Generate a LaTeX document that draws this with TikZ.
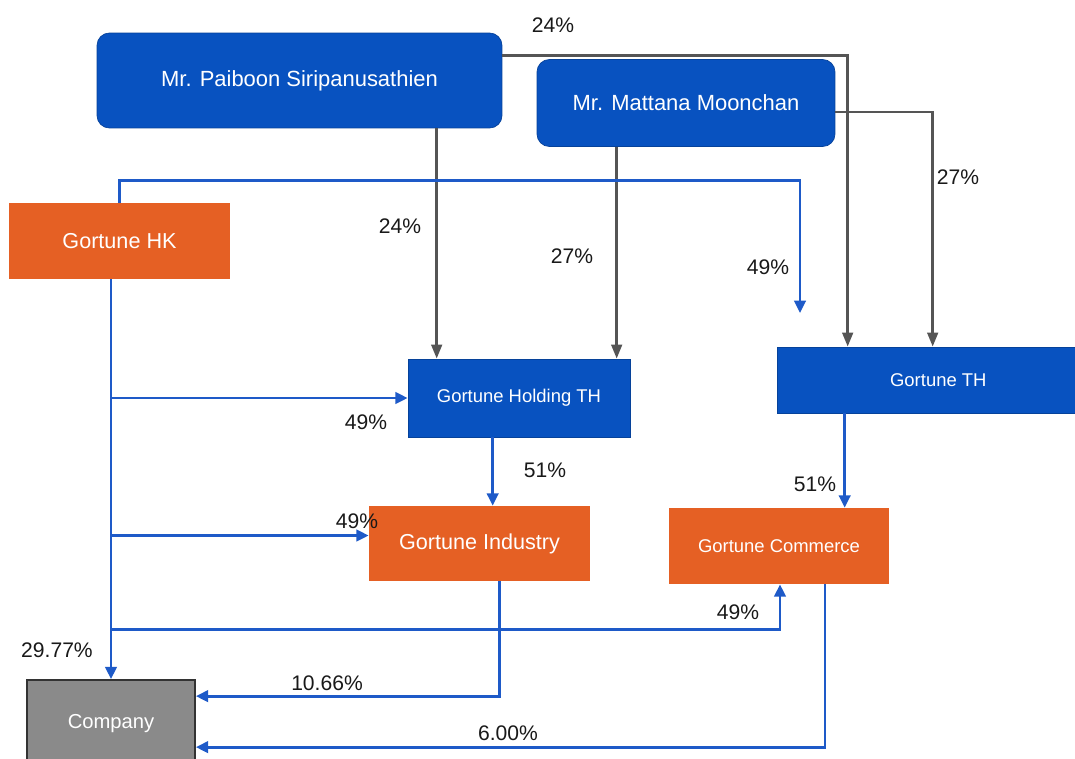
\documentclass[tikz,border=0pt]{standalone}
\usepackage{fontspec}
\setmainfont{Liberation Sans}
\usetikzlibrary{arrows.meta, positioning, calc}
\usepackage{xcolor}
\definecolor{gblue}{RGB}{8,82,192}
\definecolor{gorange}{RGB}{229,96,36}
\definecolor{ggray}{RGB}{138,138,138}
\definecolor{lblue}{RGB}{30,90,200}
\definecolor{lgray}{RGB}{85,85,85}

\begin{document}
\begin{tikzpicture}[x=0.02cm, y=-0.02cm,
  person/.style={draw=gblue!80!black, rounded corners=7pt, fill=gblue, text=white,
  inner sep=0pt, font=\fontsize{12.5}{15}\selectfont},
  firm/.style={draw=gblue!80!black, fill=gblue, text=white, inner sep=0pt,
  font=\fontsize{10.5}{13}\selectfont},
  sub/.style={fill=gorange, text=white, inner sep=0pt, font=\fontsize{12.3}{15}\selectfont},
  pct/.style={font=\fontsize{12}{14}\selectfont, text=black!90, inner sep=0pt},
  barr/.style={-{Triangle[length=7pt, width=6.5pt]}, lblue, line width=1.6pt},
  garr/.style={-{Triangle[length=8pt, width=6pt]}, lgray, line width=1.6pt}
]
\useasboundingbox (0,0) rectangle (1075,758);
\node[person, minimum width=8.1cm, minimum height=1.9cm] (paiboon) at (299.5,80.5) {Mr. Paiboon Siripanusathien};
\node[person, minimum width=5.96cm, minimum height=1.74cm] (mattana) at (686,103) {Mr. Mattana Moonchan};
\node[sub, minimum width=4.42cm, minimum height=1.52cm] (hk) at (119.5,241) {Gortune HK};
\node[firm, minimum width=4.44cm, minimum height=1.56cm] (holding) at (519,398) {Gortune Holding TH};
\node[firm, minimum width=5.96cm, minimum height=1.32cm, text depth=0pt] (th) at (926,380) {\hspace*{14pt}Gortune TH};
\node[sub, minimum width=4.42cm, minimum height=1.5cm] (industry) at (479.5,543.5) {Gortune Industry};
\node[sub, minimum width=4.4cm, minimum height=1.52cm, font=\fontsize{10.5}{13}\selectfont] (commerce) at (779,546) {Gortune Commerce};
\node[draw=black!80, line width=1pt, fill=ggray, text=white, inner sep=0pt,
  minimum width=3.36cm, minimum height=1.8cm, font=\fontsize{11.5}{14}\selectfont] (company) at (111,725) {\raisebox{4pt}{Company}};

\draw[garr] ($(paiboon.north east)+(0,23)$) -| ($(th.north west)+(71,0)$);
\draw[garr] ($(mattana.east)+(0,9)$) -| ($(th.north west)+(156,0)$);
\draw[garr] ($(paiboon.south west)+(340,0)$) coordinate (p1) -- (p1 |- holding.north);
\draw[garr] ($(mattana.south west)+(80,0)$) coordinate (m1) -- (m1 |- holding.north);
\coordinate (hkend) at (800,313);
\draw[barr] (hk.north) -- ++(0,-22) -| (hkend);
\draw[barr] (hk.south -| company.north) -- (company.north);
\draw[barr] (holding.west -| company.north) -- (holding.west);
\coordinate (i1) at ($(industry.west)+(0,-8)$);
\draw[barr] (i1 -| company.north) -- (i1);
\draw[barr] ($(company.north)+(0,-50)$) -| ($(commerce.south)+(1,0)$);
\draw[barr] ($(holding.south west)+(85,0)$) coordinate (h1) -- (h1 |- industry.north);
\draw[barr] ($(th.south west)+(68,0)$) coordinate (t1) -- (t1 |- commerce.north);
\draw[barr] ($(industry.south)+(20,0)$) |- ($(company.north east)+(0,17)$);
\draw[barr] ($(commerce.south)+(46,0)$) |- ($(company.north east)+(0,68)$);

\node[pct] (l24a) at (553,25) {24\%};
\node[pct] (l27a) at (958,177) {27\%};
\node[pct] (l24b) at (400,226) {24\%};
\node[pct] (l27b) at (572,256) {27\%};
\node[pct] (l49a) at (768,267) {49\%};
\node[pct] (l49b) at (366,422) {49\%};
\node[pct] (l51a) at (545,470) {51\%};
\node[pct] (l51b) at (815,484) {51\%};
\node[pct] (l49c) at (357,521) {49\%};
\node[pct] (l49d) at (738,612) {49\%};
\node[pct] (l2977) at (57,650) {29.77\%};
\node[pct] (l1066) at (327,683) {10.66\%};
\node[pct] (l600) at (508,733) {6.00\%};
\end{tikzpicture}
\end{document}
